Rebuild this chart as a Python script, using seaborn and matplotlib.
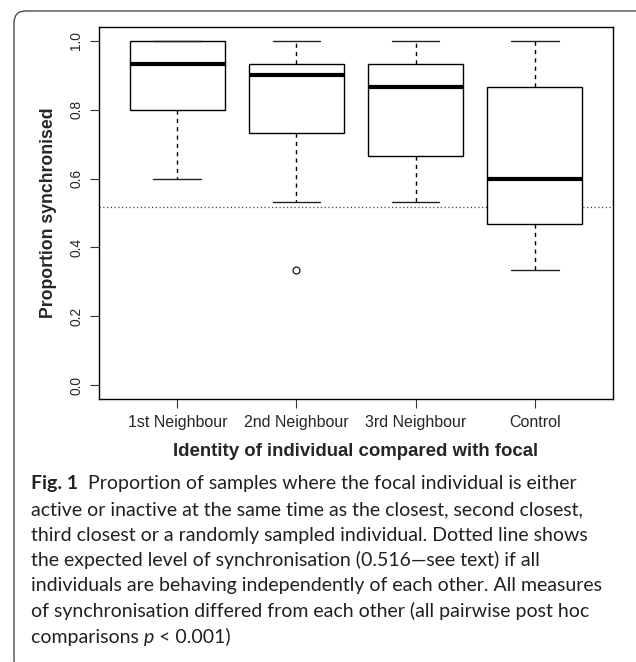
import numpy as np
import pandas as pd
import matplotlib
matplotlib.use("Agg")
import matplotlib.pyplot as plt
import seaborn as sns
from matplotlib.patches import FancyBboxPatch

# ---------------- data ----------------
categories = ["1st Neighbour", "2nd Neighbour", "3rd Neighbour", "Control"]
first_neighbour = [0.6, 0.7333, 0.8, 0.8667, 0.9333, 0.9333, 1.0, 1.0, 1.0]
second_neighbour = [0.3333, 0.5333, 0.7333, 0.8, 0.9, 0.9333, 0.9333, 1.0, 1.0]
third_neighbour = [0.5333, 0.6, 0.6667, 0.8, 0.8667, 0.9, 0.9333, 1.0, 1.0]
control = [0.3333, 0.4, 0.4667, 0.5333, 0.6, 0.7333, 0.8667, 0.9333, 1.0]
expected_sync = 0.516
y_ticks = [0.0, 0.2, 0.4, 0.6, 0.8, 1.0]
y_tick_labels = ["0.0", "0.2", "0.4", "0.6", "0.8", "1.0"]
y_label = "Proportion synchronised"
x_label = "Identity of individual compared with focal"
caption_head = "Fig. 1"
caption_lines = [
    "Proportion of samples where the focal individual is either",
    "active or inactive at the same time as the closest, second closest,",
    "third closest or a randomly sampled individual. Dotted line shows",
    "the expected level of synchronisation (0.516\u2014see text) if all",
    "individuals are behaving independently of each other. All measures",
    "of synchronisation differed from each other (all pairwise post hoc",
    "comparisons ",
]
caption_tail_italic = "p"
caption_tail = " < 0.001)"

values = {
    "1st Neighbour": first_neighbour,
    "2nd Neighbour": second_neighbour,
    "3rd Neighbour": third_neighbour,
    "Control": control,
}
df = pd.DataFrame(
    [(k, v) for k in categories for v in values[k]], columns=["group", "value"]
)

# ---------------- figure ----------------
W, H = 636, 662
DPI = 100
sns.set_style("ticks")
plt.rcParams["font.family"] = ["Liberation Sans", "DejaVu Sans"]
fig = plt.figure(figsize=(W / DPI, H / DPI), dpi=DPI)

# frame around the figure panel (rounded corner, cut at right/bottom)
frame = FancyBboxPatch(
    (14 / W, -10 / H), (W + 20) / W, (H - 11 + 10) / H,
    boxstyle="round,pad=0,rounding_size=0.018",
    transform=fig.transFigure, facecolor="none", edgecolor="#3a3a3a",
    linewidth=0.9, clip_on=False,
)
fig.patches.append(frame)

ax_left, ax_right, ax_top, ax_bottom = 98.6, 613.4, 27.0, 399.0
ax = fig.add_axes([ax_left / W, 1 - ax_bottom / H,
                   (ax_right - ax_left) / W, (ax_bottom - ax_top) / H])

ax.axhline(expected_sync, color="#444444", linewidth=0.9,
           linestyle=(0, (1, 2)), zorder=0.5)

sns.boxplot(
    data=df, x="group", y="value", order=categories, ax=ax,
    width=0.8, color="white", linecolor="black", linewidth=1.0, whis=1.5,
    fliersize=5, saturation=1,
    whiskerprops=dict(linestyle=(0, (3, 3)), color="black"),
    medianprops=dict(linewidth=3, color="black"),
    capprops=dict(color="#222222"),
    flierprops=dict(marker="o", markerfacecolor="none",
                    markeredgecolor="black", markeredgewidth=0.8),
)

ax.set_xlim(-0.66, 3.66)
ax.set_ylim(-0.04, 1.04)
ax.set_yticks(y_ticks)
ax.set_yticklabels(y_tick_labels, rotation=90, va="center")
for s in ax.spines.values():
    s.set_visible(True)
    s.set_linewidth(1.0)
    s.set_color("black")
ax.tick_params(axis="both", length=6.5, width=0.8, color="#333333")
ax.tick_params(axis="x", labelsize=11.5, pad=5)
ax.tick_params(axis="y", labelsize=9.9, pad=4.7)

ax.set_xlabel(x_label, fontsize=13.4, fontweight="bold")
ax.set_ylabel(y_label, fontsize=12.7, fontweight="bold")
ax.xaxis.set_label_coords(356 / W, 1 - 456 / H, transform=fig.transFigure)
ax.xaxis.label.set_va("baseline")
ax.yaxis.set_label_coords(48.3 / W, 1 - 213 / H, transform=fig.transFigure)
ax.yaxis.label.set_va("center")

# ---------------- caption ----------------
cap_family = ["Lato", "DejaVu Sans"]
cap_color = "#231f20"
x0 = 31
baseline0 = 489.5
line_step = 25.5
target_right = 574

renderer = fig.canvas.get_renderer()


def text_px(x, ybase, s, fs, **kw):
    t = fig.text(x / W, 1 - ybase / H, s, fontsize=fs, family=cap_family,
                 color=cap_color, va="baseline", ha="left", **kw)
    bb = t.get_window_extent(renderer=renderer)
    return t, bb.x1


# size the caption so its first line spans the same width as the reference
fs = 13.0
t1, r1 = text_px(x0, baseline0, caption_head + "  ", fs, fontweight="bold")
t2, r2 = text_px(r1, baseline0, caption_lines[0], fs)
scale = (target_right - x0) / (r2 - x0)
t1.remove()
t2.remove()
fs = fs * scale

for i, line in enumerate(caption_lines):
    yb = baseline0 + i * line_step
    x = x0
    if i == 0:
        _, x = text_px(x, yb, caption_head + "  ", fs, fontweight="bold")
    _, x = text_px(x, yb, line, fs)
    if i == len(caption_lines) - 1:
        _, x = text_px(x, yb, caption_tail_italic, fs, style="italic")
        _, x = text_px(x, yb, caption_tail, fs)

fig.savefig("out.png", dpi=DPI)
